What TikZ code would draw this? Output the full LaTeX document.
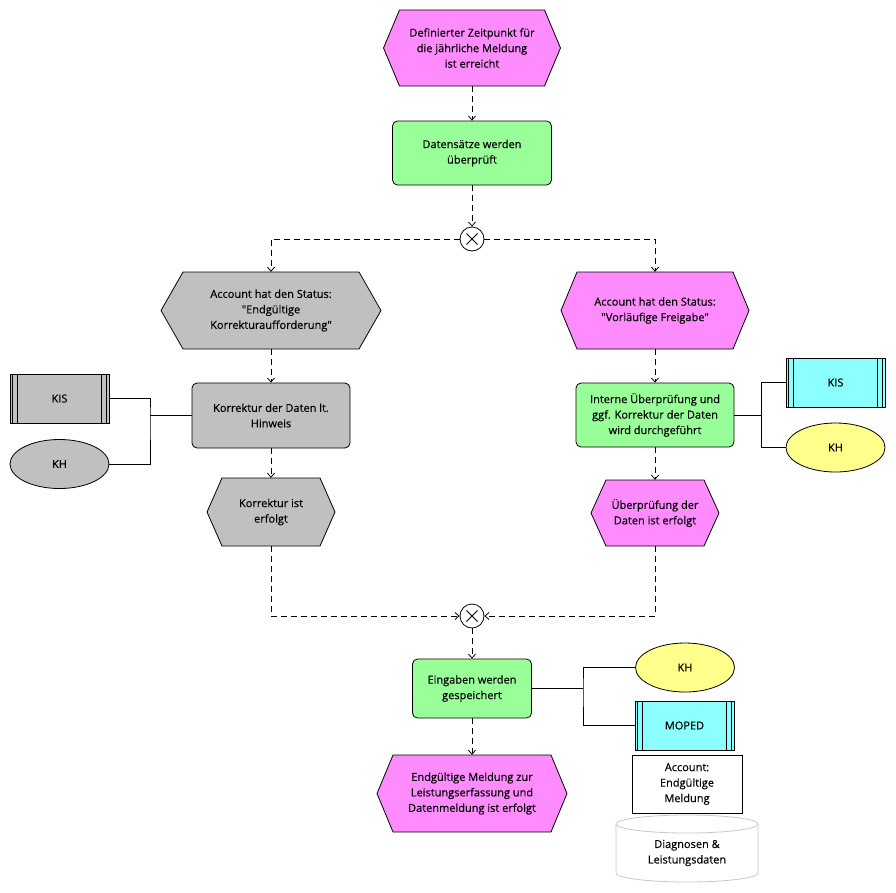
\documentclass[tikz,border=0pt]{standalone}
\usepackage{fontspec}
\setmainfont{Open Sans}[Ligatures=TeXOff, BoldFont=Open Sans, BoldFeatures={FakeBold=0.35}]
\usetikzlibrary{arrows.meta,shapes.geometric}
\definecolor{evtc}{RGB}{255,140,255}
\definecolor{fctc}{RGB}{153,255,153}
\definecolor{gryc}{RGB}{192,192,192}
\definecolor{sysc}{RGB}{140,255,255}
\definecolor{orgc}{RGB}{255,255,140}
\definecolor{dbc}{RGB}{200,200,200}
\tikzset{
  txt/.style={font=\fontsize{11}{15.5}\selectfont\bfseries, align=center},
  shapeline/.style={draw=black, line width=0.8pt},
  func/.style={txt, shapeline, rounded corners=5pt, inner sep=0pt},
  flow/.style={draw, line width=0.8pt, dash pattern=on 6pt off 4pt, -{Straight Barb[length=4pt,width=7pt]}},
  link/.style={draw, line width=0.8pt},
  xorc/.style={circle, shapeline, minimum size=24pt, inner sep=0pt, fill=white,
    path picture={\draw[line width=0.8pt] (path picture bounding box.center) +(-5.5pt,-5.5pt) -- +(5.5pt,5.5pt)
      (path picture bounding box.center) +(-5.5pt,5.5pt) -- +(5.5pt,-5.5pt);}},
  orgbox/.style={txt, ellipse, shapeline, minimum width=99pt, minimum height=49pt, inner sep=0pt},
  sysbox/.style={txt, rectangle, shapeline, minimum width=99pt, minimum height=49pt, inner sep=0pt},
}
\newcommand\eventhex[8]{%
  \draw[shapeline,fill=#7] ({#2-#4/2},#3) -- ({#2-#4/2+#6},{#3-#5/2}) -- ({#2+#4/2-#6},{#3-#5/2})
    -- ({#2+#4/2},#3) -- ({#2+#4/2-#6},{#3+#5/2}) -- ({#2-#4/2+#6},{#3+#5/2}) -- cycle;
  \node[txt, minimum width=#4pt, minimum height=#5pt, inner sep=0pt] (#1) at (#2,#3) {#8};}
\newcommand\sysmark[1]{%
  \draw[line width=0.8pt] ([xshift=3pt]#1.north west) -- ([xshift=3pt]#1.south west)
    ([xshift=8pt]#1.north west) -- ([xshift=8pt]#1.south west)
    ([xshift=-3pt]#1.north east) -- ([xshift=-3pt]#1.south east)
    ([xshift=-8pt]#1.north east) -- ([xshift=-8pt]#1.south east);}
\begin{document}
\begin{tikzpicture}[x=1pt,y=-1pt]
\useasboundingbox (0,0) rectangle (896,892);

% events
\eventhex{e1}{472}{48}{177}{76}{16}{evtc}{Definierter Zeitpunkt für\\die jährliche Meldung\\ist erreicht}
\eventhex{e2}{271}{310.5}{220}{77}{22}{gryc}{Account hat den Status:\\"Endgültige\\Korrekturaufforderung"}
\eventhex{e3}{655}{310.5}{188}{77}{16}{evtc}{Account hat den Status:\\"Vorläufige Freigabe"}
\eventhex{e4}{271}{512}{128}{68}{15}{gryc}{Korrektur ist\\erfolgt}
\eventhex{e5}{655}{513}{128}{66}{15}{evtc}{Überprüfung der\\Daten ist erfolgt}
\eventhex{e6}{472}{793.5}{190}{77}{16}{evtc}{Endgültige Meldung zur\\Leistungserfassung und\\Datenmeldung ist erfolgt}

% functions
\node[func, fill=fctc, minimum width=159pt, minimum height=64pt] (f1) at (472,153) {Datensätze werden\\überprüft};
\node[func, fill=gryc, minimum width=158pt, minimum height=65pt] (f2) at (271,415.5) {Korrektur der Daten lt.\\Hinweis};
\node[func, fill=fctc, minimum width=158pt, minimum height=64pt] (f3) at (655,415) {Interne Überprüfung und\\ggf. Korrektur der Daten\\wird durchgeführt};
\node[func, fill=fctc, minimum width=119pt, minimum height=59pt] (f4) at (472,688.5) {Eingaben werden\\gespeichert};

% connectors (xor)
\node[xorc] (x1) at (472,239) {};
\node[xorc] (x2) at (472,616) {};

% resources
\node[sysbox, fill=gryc] (kis1) at (59.5,398.5) {KIS};
\sysmark{kis1}
\node[orgbox, fill=gryc] (kh1) at (59.5,464) {KH};
\node[sysbox, fill=sysc] (kis2) at (835.5,382.5) {KIS};
\sysmark{kis2}
\node[orgbox, fill=orgc] (kh2) at (835.5,447.5) {KH};
\node[orgbox, fill=orgc] (kh3) at (685,667.5) {KH};
\node[sysbox, fill=sysc] (moped) at (684.5,725.5) {MOPED};
\sysmark{moped}

\node[txt, shapeline, fill=white, minimum width=110pt, minimum height=58pt, inner sep=0pt] (acc) at (687,784) {Account:\\Endgültige\\Meldung};

% database cylinder
\draw[draw=dbc, line width=0.8pt, fill=white] (616,824) -- (616,873) arc[start angle=180, end angle=0, x radius=71, y radius=9] -- (758,824);
\draw[draw=dbc, line width=0.8pt, fill=white] (687,824) ellipse [x radius=71, y radius=9];
\node[txt] (db) at (687,853) {Diagnosen \&\\Leistungsdaten};

% control flow
\draw[flow] (e1.south) -- (f1.north);
\draw[flow] (f1.south) -- (x1.north);
\draw[flow] (x1.west) -| (e2.north);
\draw[flow] (x1.east) -| (e3.north);
\draw[flow] (e2.south) -- (f2.north);
\draw[flow] (e3.south) -- (f3.north);
\draw[flow] (f2.south) -- (e4.north);
\draw[flow] (f3.south) -- (e5.north);
\draw[flow] (e4.south) |- (x2.west);
\draw[flow] (e5.south) |- (x2.east);
\draw[flow] (x2.south) -- (f4.north);
\draw[flow] (f4.south) -- (e6.north);

% resource links
\coordinate (j1) at (150,415.5);
\coordinate (j2) at (761,415);
\coordinate (j3) at (583,688.5);
\draw[link] (f2.west) -- (j1);
\draw[link] (kis1.east) -| (j1) |- (kh1.east);
\draw[link] (f3.east) -- (j2);
\draw[link] (kis2.west) -| (j2) |- (kh2.west);
\draw[link] (f4.east) -- (j3);
\draw[link] (kh3.west) -| (j3) |- (moped.west);
\end{tikzpicture}
\end{document}
